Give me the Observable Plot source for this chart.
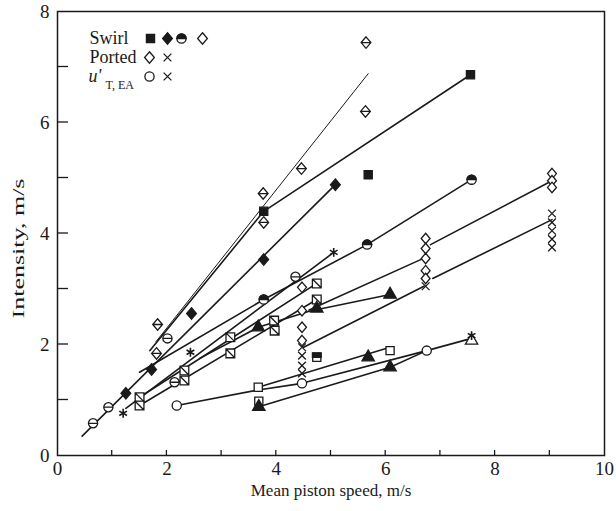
<!DOCTYPE html>
<html><head><meta charset="utf-8">
<script src="https://cdn.jsdelivr.net/npm/d3@7"></script>
<script src="https://cdn.jsdelivr.net/npm/@observablehq/plot@0.6"></script>
<style>
body{margin:0;background:#fff;}
#chart svg{font-family:"Liberation Serif","DejaVu Serif",serif;}
</style>
</head><body><div id="chart"></div>
<script>
// ---------------- data ----------------
const xTickLabels = [0, 2, 4, 6, 8, 10];
const yTickLabels = [0, 2, 4, 6, 8];
const xMinorTicks = [1,2,3,4,5,6,7,8,9];
const yMinorTicks = [1,2,3,4,5,6,7];

// Swirl filled squares
const swirlSquareX = [3.77, 5.68, 7.55];
const swirlSquareY = [4.40, 5.06, 6.86];
// Swirl filled diamonds
const swirlDiamondX = [1.25, 1.72, 2.45, 3.77, 5.08];
const swirlDiamondY = [1.12, 1.55, 2.56, 3.53, 4.88];
// Swirl half-filled circles
const swirlHalfX = [3.77, 5.66, 7.57];
const swirlHalfY = [2.81, 3.80, 4.97];
// Swirl diamonds with bar
const swirlBarDiamondX = [1.83, 1.81, 3.76, 3.77, 4.46, 5.63, 5.64];
const swirlBarDiamondY = [2.36, 1.84, 4.72, 4.20, 5.17, 6.20, 7.44];
// small circles with bar
const barCircleX = [0.65, 0.93, 2.01, 2.14, 4.35];
const barCircleY = [0.58, 0.87, 2.11, 1.32, 3.22];
// open squares with diagonal
const diagSquareX = [1.50, 1.50, 2.32, 2.32, 3.16, 3.16, 3.96, 3.97, 4.74, 4.74];
const diagSquareY = [1.05, 0.90, 1.53, 1.35, 2.13, 1.84, 2.43, 2.25, 3.10, 2.81];
// asterisks
const starX = [1.20, 2.43, 5.05, 7.57];
const starY = [0.76, 1.86, 3.66, 2.16];
// Ported open diamonds
const portedDiamondX = [4.47, 4.47, 4.47, 4.47, 6.73, 6.73, 6.73, 6.73, 6.73, 9.04, 9.04, 9.04];
const portedDiamondY = [3.03, 2.61, 2.31, 2.07, 3.91, 3.73, 3.55, 3.33, 3.19, 5.08, 4.95, 4.83];
// Ported crosses
const portedCrossX = [4.47, 4.47, 4.47, 4.47, 6.73, 9.04, 9.04, 9.04, 9.04, 9.04];
const portedCrossY = [1.95, 1.80, 1.62, 1.48, 3.05, 4.36, 4.20, 4.05, 3.90, 3.75];
// u'T,EA open circles
const uCircleX = [2.18, 4.47, 6.75];
const uCircleY = [0.90, 1.30, 1.89];
// filled triangles
const triFillX = [3.67, 4.74, 6.08, 3.68, 6.08, 5.68];
const triFillY = [2.31, 2.65, 2.90, 0.88, 1.59, 1.77];
// open squares (lower group)
const plainSquareX = [3.67, 6.08, 3.68];
const plainSquareY = [1.23, 1.89, 0.98];
const halfSquareX = [4.74];
const halfSquareY = [1.77];
const openTriX = [7.57];
const openTriY = [2.07];

// fitted lines
const lineThinX = [1.80, 5.68];            const lineThinY = [2.05, 6.88];
const lineSquareX = [1.69, 3.77, 7.55];    const lineSquareY = [1.89, 4.40, 6.86];
const lineDiamondX = [0.45, 5.08];         const lineDiamondY = [0.35, 4.88];
const lineHalfX = [1.50, 3.77, 5.66, 7.57];const lineHalfY = [1.50, 2.81, 3.80, 4.97];
const lineStarX = [1.25, 5.05];            const lineStarY = [0.85, 3.66];
const lineSqUpX = [1.50, 4.74];            const lineSqUpY = [1.05, 3.10];
const lineSqLoX = [1.50, 4.74];            const lineSqLoY = [0.90, 2.81];
const lineArrowX = [2.60, 3.67, 4.60, 6.08]; const lineArrowY = [1.75, 2.31, 2.60, 2.90];
const linePortDiaAX = [4.60, 6.73];        const linePortDiaAY = [2.62, 3.57];
const linePortDiaBX = [6.82, 9.04];        const linePortDiaBY = [3.80, 4.95];
const linePortCrossAX = [4.50, 6.70];      const linePortCrossAY = [1.95, 3.05];
const linePortCrossBX = [6.86, 9.04];      const linePortCrossBY = [3.19, 4.25];
const lineUX = [2.18, 3.67, 4.47, 6.75, 7.57]; const lineUY = [0.90, 1.18, 1.30, 1.89, 2.11];
const lineSqLowX = [3.67, 6.08];           const lineSqLowY = [1.23, 1.95];
const lineTriLowX = [3.68, 6.08, 6.75];    const lineTriLowY = [0.88, 1.59, 1.89];

// ---------------- helpers ----------------
const pts = (xs, ys) => xs.map((x, i) => ({x, y: ys[i]}));
const lineDefs = [
  ["thin", lineThinX, lineThinY, 1],
  ["sq", lineSquareX, lineSquareY, 1.6],
  ["dia", lineDiamondX, lineDiamondY, 1.6],
  ["half", lineHalfX, lineHalfY, 1.6],
  ["star", lineStarX, lineStarY, 1.6],
  ["squp", lineSqUpX, lineSqUpY, 1.6],
  ["sqlo", lineSqLoX, lineSqLoY, 1.6],
  ["arrow", lineArrowX, lineArrowY, 1.6],
  ["pda", linePortDiaAX, linePortDiaAY, 1.6],
  ["pdb", linePortDiaBX, linePortDiaBY, 1.6],
  ["pca", linePortCrossAX, linePortCrossAY, 1.6],
  ["pcb", linePortCrossBX, linePortCrossBY, 1.6],
  ["u", lineUX, lineUY, 1.6],
  ["sqlow", lineSqLowX, lineSqLowY, 1.6],
  ["trilow", lineTriLowX, lineTriLowY, 1.6]
];
const lineRows = lineDefs.flatMap(([id, xs, ys, w]) => xs.map((x, i) => ({id, x, y: ys[i], w})));

const ink = "#1a1a1a";
const R = (size) => Math.sqrt(size / Math.PI);
const barDiamond = {draw(c, s) { const r = R(s) * 1.25, w = r * 0.85;
  c.moveTo(0, -r); c.lineTo(w, 0); c.lineTo(0, r); c.lineTo(-w, 0); c.closePath();
  c.moveTo(-w, 0); c.lineTo(w, 0); }};
const openDiamond = {draw(c, s) { const r = R(s) * 1.25, w = r * 0.85;
  c.moveTo(0, -r); c.lineTo(w, 0); c.lineTo(0, r); c.lineTo(-w, 0); c.closePath(); }};
const filledDiamond = openDiamond;
const barCircle = {draw(c, s) { const r = R(s);
  c.moveTo(r, 0); c.arc(0, 0, r, 0, 2 * Math.PI); c.moveTo(-r, 0); c.lineTo(r, 0); }};
const diagSquare = {draw(c, s) { const r = R(s) * 0.95;
  c.rect(-r, -r, 2 * r, 2 * r); c.moveTo(-r, -r); c.lineTo(r, r); }};
const topHalf = {draw(c, s) { const r = R(s);
  c.moveTo(-r, 0); c.arc(0, 0, r, Math.PI, 2 * Math.PI); c.closePath(); }};
const halfSq = {draw(c, s) { const r = R(s) * 0.95;
  c.rect(-r, -r, 2 * r, r); }};

function dots(xs, ys, symbol, opts = {}) {
  return Plot.dot(pts(xs, ys), {x: "x", y: "y", symbol, r: 4.6, stroke: ink, fill: "white", strokeWidth: 1.3, ...opts});
}
function legendDot(dx, dy, symbol, opts = {}) {
  return Plot.dot([0], {frameAnchor: "top-left", dx, dy, symbol, r: 4.6, stroke: ink, fill: "white", strokeWidth: 1.3, ...opts});
}

const chart = Plot.plot({
  width: 616, height: 511,
  marginTop: 11, marginLeft: 57, marginRight: 12, marginBottom: 56,
  x: {domain: [0, 10]},
  y: {domain: [0, 8]},
  style: {fontFamily: "Liberation Serif, serif", background: "#fff", color: ink},
  marks: [
    // axes: labels
    Plot.axisX({ticks: xTickLabels, tickSize: 0, tickPadding: 6, fontSize: 19, label: null}),
    Plot.axisY({ticks: yTickLabels, tickSize: 0, tickPadding: 8, fontSize: 19, label: null}),
    Plot.frame({stroke: ink, strokeWidth: 1.5}),
    Plot.text(["Mean piston speed, m/s"], {frameAnchor: "bottom", dy: 35, fontSize: 17, fill: ink, lineAnchor: "middle"}),
    Plot.text(["Intensity, m/s"], {frameAnchor: "left", dx: -39, dy: 85, rotate: -90, textAnchor: "start", lineAnchor: "middle", fontSize: 17, fill: ink, className: "ylab"}),
    // lines
    Plot.line(lineRows, {x: "x", y: "y", z: "id", stroke: ink, strokeWidth: "w"}),
    // markers
    dots(swirlBarDiamondX, swirlBarDiamondY, barDiamond),
    dots(portedDiamondX, portedDiamondY, openDiamond, {r: 4.2}),
    dots(portedCrossX, portedCrossY, "times", {r: 3.6, fill: "none"}),
    dots(barCircleX, barCircleY, barCircle),
    dots(diagSquareX, diagSquareY, diagSquare),
    dots(plainSquareX, plainSquareY, "square"),
    dots(halfSquareX, halfSquareY, "square"),
    dots(halfSquareX, halfSquareY, halfSq, {fill: ink}),
    dots(uCircleX, uCircleY, "circle"),
    dots(swirlHalfX, swirlHalfY, "circle"),
    dots(swirlHalfX, swirlHalfY, topHalf, {fill: ink}),
    dots(swirlSquareX, swirlSquareY, "square", {fill: ink}),
    dots(swirlDiamondX, swirlDiamondY, filledDiamond, {fill: ink}),
    dots(triFillX, triFillY, "triangle", {fill: ink}),
    dots(openTriX, openTriY, "triangle"),
    dots(starX, starY, "asterisk", {r: 4.2, fill: "none", strokeWidth: 1.6}),
    // legend
    Plot.text(["Swirl"], {frameAnchor: "top-left", dx: 32, dy: 27, textAnchor: "start", lineAnchor: "middle", fontSize: 18, fill: ink}),
    Plot.text(["Ported"], {frameAnchor: "top-left", dx: 32, dy: 46, textAnchor: "start", lineAnchor: "middle", fontSize: 18, fill: ink}),
    Plot.text(["u'"], {frameAnchor: "top-left", dx: 31, dy: 65, textAnchor: "start", lineAnchor: "middle", fontSize: 18, fontStyle: "italic", fill: ink}),
    Plot.text(["T, EA"], {frameAnchor: "top-left", dx: 48, dy: 74, textAnchor: "start", lineAnchor: "middle", fontSize: 12, fill: ink}),
    legendDot(93, 27, "square", {fill: ink}),
    legendDot(110, 27, filledDiamond, {fill: ink}),
    legendDot(124, 27, "circle"),
    legendDot(124, 27, topHalf, {fill: ink}),
    legendDot(145, 27, openDiamond),
    legendDot(92, 46, openDiamond),
    legendDot(110, 46, "times", {r: 3.6, fill: "none"}),
    legendDot(92, 65, "circle"),
    legendDot(110, 65, "times", {r: 3.6, fill: "none"})
  ]
});
document.getElementById("chart").appendChild(chart);

// inward ticks drawn with the plot's own x/y scales
const sx = chart.scale("x"), sy = chart.scale("y");
const svg = d3.select(chart);
const tg = svg.append("g").attr("stroke", ink).attr("stroke-width", 1.3).attr("fill", "none");
xMinorTicks.forEach(v => {
  const px = sx.apply(v), py = sy.apply(0);
  tg.append("line").attr("x1", px).attr("x2", px).attr("y1", py).attr("y2", py - 5);
});
yMinorTicks.forEach(v => {
  const px = sx.apply(0), py = sy.apply(v);
  tg.append("line").attr("x1", px).attr("x2", px + 11).attr("y1", py).attr("y2", py);
});
// stretch the y label to the length seen on the scan
svg.selectAll(".ylab text").attr("textLength", 140).attr("lengthAdjust", "spacingAndGlyphs");
</script>
</body></html>
